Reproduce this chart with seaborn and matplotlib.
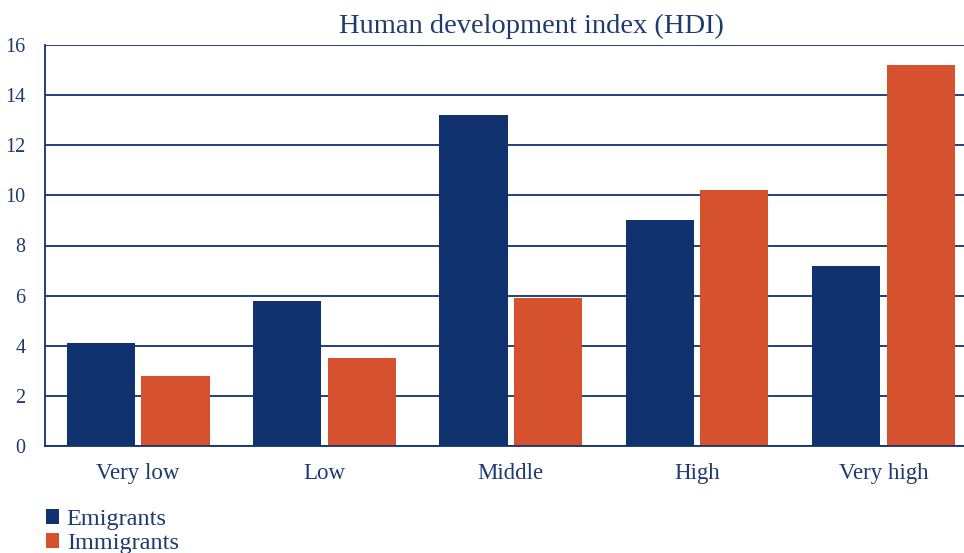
import numpy as np
import pandas as pd
import matplotlib
matplotlib.use('Agg')
import matplotlib.pyplot as plt
import seaborn as sns

# Data
categories = ['Very low', 'Low', 'Middle', 'High', 'Very high']
emigrants = [4.1, 5.8, 13.2, 9.0, 7.2]
immigrants = [2.8, 3.5, 5.9, 10.2, 15.2]
series = ['Emigrants', 'Immigrants']

df = pd.DataFrame({
    'HDI': categories * 2,
    'value': emigrants + immigrants,
    'group': [series[0]] * 5 + [series[1]] * 5,
})

navy = '#10336f'
orange = '#d6522e'
text_col = '#1f3a6e'

sns.set_style('white')
plt.rcParams['font.family'] = ['Liberation Serif', 'DejaVu Serif']

fig = plt.figure(figsize=(9.64, 5.53), dpi=100)
ax = fig.add_axes([45 / 964, 107 / 553, 931.5 / 964, 401 / 553])

sns.barplot(data=df, x='HDI', y='value', hue='group', order=categories,
            hue_order=series, palette=[navy, orange], width=0.8, gap=0.085,
            saturation=1, linewidth=0, ax=ax, legend=True)

ax.set_ylim(0, 16)
ax.set_xlim(-0.5, 4.5)
ax.set_yticks(np.arange(0, 17, 2))
ax.set_axisbelow(True)
ax.yaxis.grid(True, color=navy, linewidth=1.3)
ax.set_xlabel('')
ax.set_ylabel('')

for side in ['top', 'right']:
    ax.spines[side].set_visible(False)
for side in ['left', 'bottom']:
    ax.spines[side].set_color(navy)
    ax.spines[side].set_linewidth(1.3)

ax.set_xticks(np.arange(-0.5, 5, 1), minor=True)
ax.tick_params(axis='x', which='major', length=0, pad=12, labelsize=16.5, labelcolor=text_col)
ax.tick_params(axis='x', which='minor', length=9, width=1.3, color=navy, direction='out')
ax.tick_params(axis='y', length=0, pad=14, labelsize=14.5, labelcolor=text_col)

fig.text(531 / 964, 1 - 26 / 553, 'Human development index (HDI)', ha='center', va='center',
         fontsize=20.5, color=text_col)

handles, labels = ax.get_legend_handles_labels()
ax.get_legend().remove()
fig.legend(handles, labels, loc='upper left', bbox_to_anchor=(46 / 964, 1 - 509 / 553),
           frameon=False, borderaxespad=0, fontsize=17.5, labelcolor=text_col,
           handlelength=0.55, handleheight=0.55, handletextpad=0.3,
           labelspacing=0.12, borderpad=0)

fig.savefig('out.png', dpi=100)
